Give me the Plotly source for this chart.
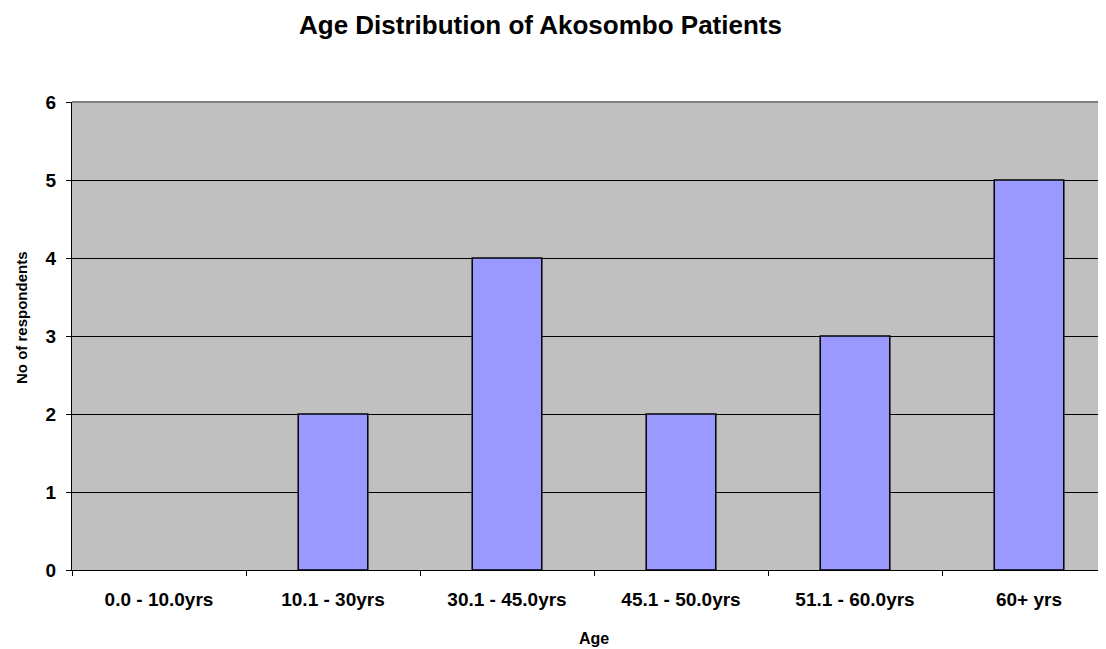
import plotly.graph_objects as go

categories = ["0.0 - 10.0yrs", "10.1 - 30yrs", "30.1 - 45.0yrs", "45.1 - 50.0yrs", "51.1 - 60.0yrs", "60+ yrs"]
values = [0, 2, 4, 2, 3, 5]
y_ticks = [0, 1, 2, 3, 4, 5, 6]

OFF = 8                      # page body offset in the screenshot
W, H = 1106 - OFF, 649 - OFF
L, T, B = 72 - OFF, 102 - OFF, 79
cat_px = 174.0
plot_w = W - L
plot_h = H - T - B
x_hi = -0.5 + plot_w / cat_px

def px_x(x):  # screen x -> paper
    return (x - OFF - L) / plot_w

def px_y(y):  # screen y -> paper
    return (H - B - (y - OFF)) / plot_h

fig = go.Figure(go.Bar(
    x=categories, y=values,
    marker=dict(color="#9999FF",
                line=dict(color="black", width=[0 if v == 0 else 1.5 for v in values])),
    width=0.4,
))

font = "Liberation Sans, Arial, sans-serif"
fig.update_layout(
    width=W, height=H,
    margin=dict(l=L, r=0, t=T, b=B),
    paper_bgcolor="white", plot_bgcolor="#C0C0C0",
    showlegend=False,
    font=dict(family=font, color="black", size=18),
    xaxis=dict(
        type="category", range=[-0.5, x_hi],
        tickson="boundaries", ticks="outside", ticklen=5, tickcolor="black",
        ticklabelstandoff=12,
        showline=True, linecolor="black", linewidth=1,
        showgrid=False, tickfont=dict(size=19, family=font, weight="bold"),
    ),
    yaxis=dict(
        range=[0, 6], tickvals=y_ticks, ticks="outside", ticklen=5, tickcolor="black",
        ticklabelstandoff=6,
        showline=True, linecolor="black", linewidth=1,
        showgrid=True, gridcolor="black", gridwidth=1, zeroline=False,
        tickfont=dict(size=19, family=font, weight="bold"),
    ),
    shapes=[dict(type="line", xref="paper", yref="paper", x0=0, x1=1, y0=1, y1=1,
                 line=dict(color="#808080", width=2))],
    annotations=[
        dict(text="<b>Age Distribution of Akosombo Patients</b>", xref="paper", yref="paper",
             x=px_x(540), y=px_y(25), xanchor="center", yanchor="middle",
             showarrow=False, font=dict(size=26, family=font)),
        dict(text="<b>Age</b>", xref="paper", yref="paper",
             x=px_x(594), y=px_y(638), xanchor="center", yanchor="middle",
             showarrow=False, font=dict(size=16, family=font)),
        dict(text="<b>No of respondents</b>", xref="paper", yref="paper", textangle=-90,
             x=px_x(21), y=px_y(318), xanchor="center", yanchor="middle",
             showarrow=False, font=dict(size=15, family=font)),
    ],
)

fig.write_html("out.html")
